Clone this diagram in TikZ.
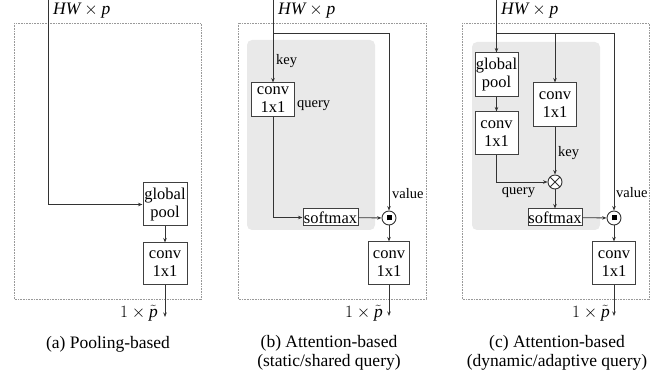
\documentclass[tikz,border=0pt]{standalone}
\usepackage{fontspec}
\setmainfont{Liberation Serif}
\usetikzlibrary{arrows.meta}
\begin{document}
\begin{tikzpicture}[x=1pt,y=-1pt,
  ln/.style={draw=black!80, line width=0.8pt},
  arr/.style={ln,-{Stealth[length=4.5pt,width=3.5pt]}},
  box/.style={draw=black!75, line width=1pt, fill=white, inner sep=0pt, align=center, font=\fontsize{16.5}{18}\selectfont},
  dotbox/.style={draw=gray!80, line width=0.6pt, dash pattern=on 0.8pt off 0.8pt},
  grayarea/.style={fill=gray!17, rounded corners=5pt},
  lbl/.style={inner sep=0pt, font=\fontsize{14.5}{16}\selectfont},
  dimlbl/.style={inner sep=0pt, font=\fontsize{17.5}{20}\selectfont},
  captext/.style={inner sep=0pt, align=center, font=\fontsize{17.5}{19.5}\selectfont},
  odotn/.style={circle, draw=black!80, line width=0.9pt, fill=white, minimum size=14pt, inner sep=0pt},
  otimesn/.style={circle, draw=black!80, line width=0.9pt, fill=white, minimum size=14pt, inner sep=0pt,
    path picture={\draw[black!80, line width=0.8pt] (path picture bounding box.north west) -- (path picture bounding box.south east)
      (path picture bounding box.north east) -- (path picture bounding box.south west);}}
]
\useasboundingbox (0,0) rectangle (667,379);

% ---------- panel (a) ----------
\draw[dotbox] (14,23) rectangle (201,299);
\coordinate (a0) at (48.7,0);
\node[box, minimum width=44pt, minimum height=43pt] (agp) at (165,204.5) {global\\pool};
\node[box, minimum width=44pt, minimum height=42pt] (acv) at (165,264) {conv\\1x1};
\coordinate (aout) at (165,317);
\draw[arr] (a0) |- (agp.west);
\draw[arr] (agp) -- (acv);
\draw[arr] (acv) -- (aout);
\node[dimlbl, anchor=west] (ain) at (53,11) {$\textit{HW}\times \textit{p}$};
\node[dimlbl, anchor=east] (aol) at (158,313) {$1\times\tilde{\textit{p}}$};
\node[captext] (acap) at (108,344) {(a) Pooling-based};

% ---------- panel (b) ----------
\draw[dotbox] (238,23) rectangle (426,299);
\fill[grayarea] (247,40) rectangle (375,230);
\coordinate (b0) at (273,0);
\coordinate (bs) at (273,33);
\coordinate (bc) at (389,33);
\node[box, minimum width=43pt, minimum height=34pt] (bq) at (273,100) {conv\\1x1};
\node[box, minimum width=55pt, minimum height=17pt] (bsm) at (330.5,217.5) {softmax};
\node[odotn] (bdot) at (389,218) {\rule[-2.5pt]{5pt}{5pt}};
\node[box, minimum width=41pt, minimum height=43pt] (bcv) at (389,263.5) {conv\\1x1};
\coordinate (bout) at (389,316);
\draw[arr] (b0) -- (bq);
\draw[ln] (bs) -- (bc);
\draw[arr] (bc) -- (bdot);
\draw[arr] (bq.south) |- (bsm.west);
\draw[arr] (bsm) -- (bdot);
\draw[arr] (bdot) -- (bcv);
\draw[arr] (bcv) -- (bout);
\node[lbl, anchor=west] (bkey) at (276,61) {key};
\node[lbl, anchor=west] (bqry) at (297,106) {query};
\node[lbl, anchor=west] (bval) at (392,194) {value};
\node[dimlbl, anchor=west] (bin) at (278,11) {$\textit{HW}\times \textit{p}$};
\node[dimlbl, anchor=east] (bol) at (383,313) {$1\times\tilde{\textit{p}}$};
\node[captext] (bcap) at (329,353) {(b) Attention-based\\(static/shared query)};

% ---------- panel (c) ----------
\draw[dotbox] (462,23) rectangle (649,299);
\fill[grayarea] (472,42) rectangle (600,230);
\coordinate (c0) at (496.5,0);
\coordinate (cs) at (496.5,33);
\coordinate (cm) at (555,33);
\coordinate (cc) at (614,33);
\node[box, minimum width=43pt, minimum height=44pt] (cgp) at (496.5,75) {global\\pool};
\node[box, minimum width=43pt, minimum height=43pt] (ccl) at (496.5,133.5) {conv\\1x1};
\node[box, minimum width=43pt, minimum height=44pt] (ccr) at (555,105) {conv\\1x1};
\node[otimesn] (cx) at (555,182) {};
\node[box, minimum width=54pt, minimum height=17pt] (csm) at (555,217.5) {softmax};
\node[odotn] (cdot) at (614,218) {\rule[-2.5pt]{5pt}{5pt}};
\node[box, minimum width=43pt, minimum height=43pt] (ccv) at (614,263.5) {conv\\1x1};
\coordinate (cout) at (614,316);
\draw[arr] (c0) -- (cgp);
\draw[ln] (cs) -- (cc);
\draw[arr] (cc) -- (cdot);
\draw[arr] (cm) -- (ccr);
\draw[arr] (cgp) -- (ccl);
\draw[arr] (ccl.south) |- (cx.west);
\draw[arr] (ccr) -- (cx);
\draw[arr] (cx) -- (csm);
\draw[arr] (csm) -- (cdot);
\draw[arr] (cdot) -- (ccv);
\draw[arr] (ccv) -- (cout);
\node[lbl, anchor=west] (ckey) at (558,153) {key};
\node[lbl] (cqry) at (518.5,193) {query};
\node[lbl, anchor=west] (cval) at (616,193) {value};
\node[dimlbl, anchor=west] (cin) at (501,11) {$\textit{HW}\times \textit{p}$};
\node[dimlbl, anchor=east] (col) at (610,313) {$1\times\tilde{\textit{p}}$};
\node[captext] (ccap) at (557,353) {(c) Attention-based\\(dynamic/adaptive query)};
\end{tikzpicture}
\end{document}
